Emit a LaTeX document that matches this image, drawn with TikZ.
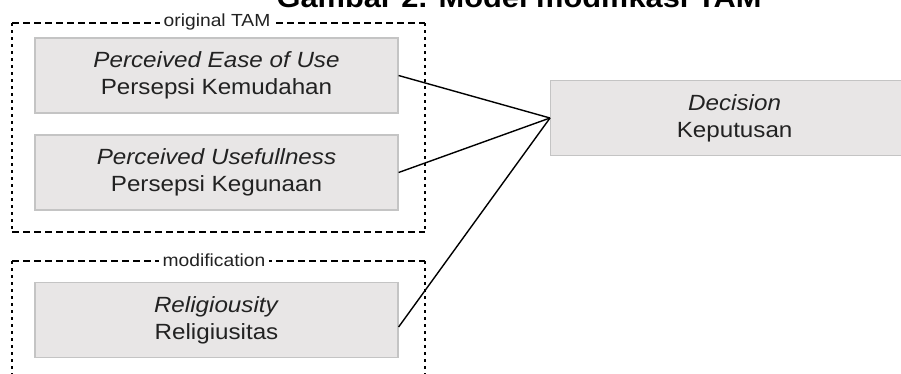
\documentclass[tikz,border=0pt]{standalone}
\usepackage{fontspec}
\setmainfont[FakeStretch=1.1]{Liberation Sans}

\definecolor{boxfill}{HTML}{E8E6E6}
\definecolor{boxline}{HTML}{C4C4C4}
\definecolor{textgray}{HTML}{222222}

\begin{document}
\begin{tikzpicture}[x=1pt, y=-1pt,
    construct/.style={draw=boxline, line width=1.2pt, fill=boxfill, minimum width=363pt, minimum height=75pt,
        align=center, text=textgray, inner sep=0pt, font=\fontsize{22}{27}\selectfont},
    grouph/.style={line width=2.2pt, dash pattern=on 6.5pt off 4.5pt},
    groupv/.style={line width=2.2pt, dash pattern=on 3pt off 4pt},
    grouplabel/.style={fill=white, inner sep=4pt, text=textgray, font=\fontsize{17.5}{17.5}\selectfont},
    link/.style={line width=1.4pt, black}]
    \useasboundingbox (0,0) rectangle (901,373);
    \clip (0,0) rectangle (901,373);

    % Title (cut off at the top)
    \node[anchor=base, font=\fontsize{28}{28}\selectfont\bfseries] (title) at (519,7.5) {Gambar 2. Model modifikasi TAM};

    % Group borders
    \draw[grouph] (12,23) -- (425,23);
    \draw[grouph] (12,232) -- (425,232);
    \draw[groupv] (12,23) -- (12,232);
    \draw[groupv] (425,23) -- (425,232);
    \draw[grouph] (12,261) -- (425,261);
    \draw[groupv] (12,261) -- (12,380);
    \draw[groupv] (425,261) -- (425,380);

    \node[grouplabel] (tamlabel) at (217,22) {original TAM};
    \node[grouplabel] (modlabel) at (214,260) {modification};

    % Constructs
    \node[construct] (peou) at (216.5,75.5) {\textit{Perceived Ease of Use}\\Persepsi Kemudahan};
    \node[construct] (pu) at (216.5,172.5) {\textit{Perceived Usefullness}\\Persepsi Kegunaan};
    \node[construct] (rel) at (216.5,320) {\textit{Religiousity}\\Religiusitas};
    \node[construct, minimum width=368pt, anchor=west] (dec) at (550,118) {\textit{Decision}\\Keputusan};

    % Connectors
    \draw[link] (peou.east) -- (dec.west);
    \draw[link] (pu.east) -- (dec.west);
    \draw[link] ([yshift=-7pt]rel.east) -- (dec.west);
\end{tikzpicture}
\end{document}
